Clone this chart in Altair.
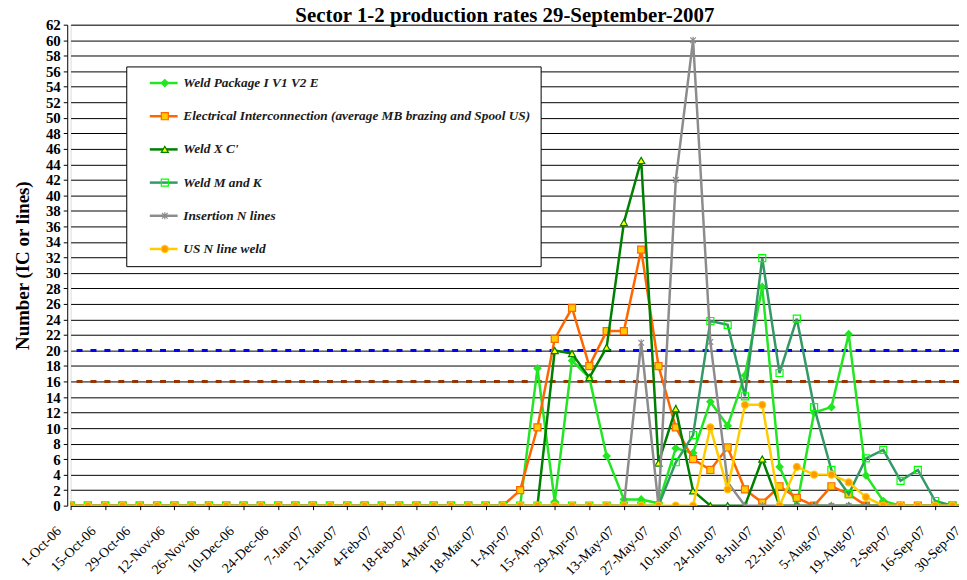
import altair as alt
import pandas as pd

dates = [
    "1-Oct-06", "8-Oct-06", "15-Oct-06", "22-Oct-06", "29-Oct-06",
    "5-Nov-06", "12-Nov-06", "19-Nov-06", "26-Nov-06",
    "3-Dec-06", "10-Dec-06", "17-Dec-06", "24-Dec-06", "31-Dec-06",
    "7-Jan-07", "14-Jan-07", "21-Jan-07", "28-Jan-07",
    "4-Feb-07", "11-Feb-07", "18-Feb-07", "25-Feb-07",
    "4-Mar-07", "11-Mar-07", "18-Mar-07", "25-Mar-07",
    "1-Apr-07", "8-Apr-07", "15-Apr-07", "22-Apr-07", "29-Apr-07",
    "6-May-07", "13-May-07", "20-May-07", "27-May-07",
    "3-Jun-07", "10-Jun-07", "17-Jun-07", "24-Jun-07",
    "1-Jul-07", "8-Jul-07", "15-Jul-07", "22-Jul-07", "29-Jul-07",
    "5-Aug-07", "12-Aug-07", "19-Aug-07", "26-Aug-07",
    "2-Sep-07", "9-Sep-07", "16-Sep-07", "23-Sep-07", "30-Sep-07",
]
tick_dates = dates[::2]

series_names = [
    "Weld Package I V1 V2  E",
    "Electrical Interconnection (average MB brazing and Spool US)",
    "Weld  X C'",
    "Weld M and K",
    "Insertion N lines",
    "US N line weld",
]

weld_pkg = [0, 0, 0, 0, 0, 0, 0, 0, 0, 0, 0, 0, 0, 0, 0, 0, 0, 0, 0, 0,
            0, 0, 0, 0, 0, 0, 0, 17.7, 0.5, 18.7, 16.5, 6.4, 0.8, 0.8, 0.3,
            7.4, 6.8, 13.4, 10.3, 16.8, 28.2, 5.0, 0, 12.0, 12.7, 22.1, 3.9,
            0.6, 0, 0, 0, 0, 0]
elec = [0, 0, 0, 0, 0, 0, 0, 0, 0, 0, 0, 0, 0, 0, 0, 0, 0, 0, 0, 0,
        0, 0, 0, 0, 0, 0, 2.0, 10.1, 21.5, 25.5, 18.0, 22.5, 22.5, 33.0, 18.0,
        10.1, 6.0, 4.6, 7.5, 2.1, 0.4, 2.5, 1.0, 0, 2.5, 1.5, 0,
        0, 0, 0, 0, 0, 0]
weld_xc = [0, 0, 0, 0, 0, 0, 0, 0, 0, 0, 0, 0, 0, 0, 0, 0, 0, 0, 0, 0,
           0, 0, 0, 0, 0, 0, 0, 0, 20.0, 19.6, 16.5, 20.4, 36.5, 44.5, 5.5,
           12.5, 1.9, 0, 0, 0, 6.0, 0, 0, 0, 0, 0, 0,
           0, 0, 0, 0, 0, 0]
weld_mk = [0, 0, 0, 0, 0, 0, 0, 0, 0, 0, 0, 0, 0, 0, 0, 0, 0, 0, 0, 0,
           0, 0, 0, 0, 0, 0, 0, 0, 0, 0, 0, 0, 0, 0, 0,
           5.6, 9.1, 23.8, 23.3, 14.1, 31.9, 17.1, 24.1, 12.7, 4.6, 1.5, 6.1,
           7.2, 3.2, 4.6, 0.6, 0, 0]
insertion = [0, 0, 0, 0, 0, 0, 0, 0, 0, 0, 0, 0, 0, 0, 0, 0, 0, 0, 0, 0,
             0, 0, 0, 0, 0, 0, 0, 0, 0, 0, 0, 0, 0, 21.0, 0,
             42.0, 60.0, 21.1, 3.0, 0, 0, 0, 0, 0, 0, 0, 0,
             0, 0, 0, 0, 0, 0]
us_weld = [0, 0, 0, 0, 0, 0, 0, 0, 0, 0, 0, 0, 0, 0, 0, 0, 0, 0, 0, 0,
           0, 0, 0, 0, 0, 0, 0, 0, 0, 0, 0, 0, 0, 0, 0,
           0, 0, 10.1, 2.1, 13.0, 13.0, 0, 5.0, 4.0, 4.0, 3.0, 1.1,
           0, 0, 0, 0, 0, 0]
all_values = [weld_pkg, elec, weld_xc, weld_mk, insertion, us_weld]

y_ticks = list(range(0, 63, 2))
ref_levels = [20, 16]
ref_colors = ["#0000FF", "#993300"]

line_colors = ["#22E622", "#FF6600", "#008000", "#339966", "#8C8C8C", "#FFCC00"]
marker_fill = ["#22E622", "#FFCC00", "#FFFF00", "transparent", "#8C8C8C", "#FF9900"]
marker_stroke = ["#22E622", "#FF6600", "#008000", "#00FF00", "#8C8C8C", "#FFCC00"]
asterisk = "M0,-1L0,1M-0.8,-0.8L0.8,0.8M-0.8,0.8L0.8,-0.8"
marker_shape = ["diamond", "square", "triangle-up", "square", asterisk, "circle"]
marker_names = ["m" + str(k) for k in range(len(series_names))]
legend_line = "M-3.5,0L3.5,0"

rows = []
for k, (name, vals) in enumerate(zip(series_names, all_values)):
    for d, v in zip(dates, vals):
        rows.append({"date": d, "value": v, "series": name, "marker": marker_names[k]})
df = pd.DataFrame(rows)

FONT = "Liberation Serif"
STEP = 17.4

X = alt.X(
    "date:O", sort=dates, title=None,
    scale=alt.Scale(type="point", range=[0, STEP * (len(dates) - 1)], padding=0),
    axis=alt.Axis(values=tick_dates, labelAngle=-45, labelAlign="right", labelBaseline="middle",
                  labelFont=FONT, labelFontSize=14, labelColor="black", labelPadding=19,
                  labelOffset=-12, tickSize=4, tickColor="black", domainColor="black",
                  grid=False, labelOverlap=False, labelBound=False),
)
Y = alt.Y(
    "value:Q", title="Number (IC or lines)",
    scale=alt.Scale(domain=[0, 62], nice=False),
    axis=alt.Axis(values=y_ticks, labelFont=FONT, labelFontSize=15, labelFontWeight="bold",
                  labelColor="black", labelPadding=3, tickSize=4, tickColor="black",
                  domainColor="black", grid=True, gridColor="black", gridWidth=1,
                  titleFont=FONT, titleFontSize=19, titleFontWeight="bold", titleColor="black",
                  titlePadding=13, labelOverlap=False, offset=3.4),
)

LEG_COMMON = dict(title=None, orient="none", legendX=56, legendY=42, labelFont=FONT,
                  labelFontSize=13.4, labelFontStyle="italic", labelFontWeight="bold",
                  labelLimit=0, padding=10, rowPadding=18.4)
legA = alt.Legend(symbolType=legend_line, symbolSize=64, symbolStrokeWidth=2.5,
                  labelColor="#1a1a1a", labelOffset=13, symbolOffset=21,
                  strokeColor="black", fillColor="white", zindex=1, **LEG_COMMON)
legB = alt.Legend(symbolSize=50, symbolStrokeWidth=1.2, labelOpacity=0, labelOffset=13,
                  labelExpr="' '", symbolOffset=22.1, zindex=2, **LEG_COMMON)

COLOR = alt.Color("series:N", scale=alt.Scale(domain=series_names, range=line_colors), legend=legA)
SHAPE = alt.Shape("marker:N", scale=alt.Scale(domain=marker_names, range=marker_shape), legend=legB)
FILL = alt.Fill("marker:N", scale=alt.Scale(domain=marker_names, range=marker_fill), legend=legB)
STROKE = alt.Stroke("marker:N", scale=alt.Scale(domain=marker_names, range=marker_stroke), legend=legB)

layers = []
for lvl, c in zip(ref_levels, ref_colors):
    layers.append(
        alt.Chart(pd.DataFrame({"value": [lvl]}))
        .mark_rule(color=c, strokeDash=[6, 8], strokeWidth=3)
        .encode(y=Y)
    )
for name in series_names:
    base = alt.Chart(df).transform_filter(alt.datum.series == name)
    layers.append(base.mark_line(strokeWidth=2.5, clip=True).encode(x=X, y=Y, color=COLOR))
    layers.append(
        base.mark_point(filled=True, size=50, strokeWidth=1.2, opacity=1, clip=True)
        .encode(x=X, y=Y, shape=SHAPE, fill=FILL, stroke=STROKE)
    )

chart = (
    alt.layer(*layers)
    .properties(
        width=894, height=484,
        title=alt.TitleParams("Sector 1-2 production rates 29-September-2007", font=FONT,
                              fontSize=21, fontWeight="bold", color="black", anchor="middle",
                              dx=-10, offset=-8.5),
        padding={"left": 63, "top": 15, "right": 0, "bottom": 70},
        autosize=alt.AutoSizeParams(type="none"),
    )
    .configure_view(stroke=None)
    .configure(background="white")
)

chart.save("out.html", embed_options={"renderer": "svg", "actions": False})
